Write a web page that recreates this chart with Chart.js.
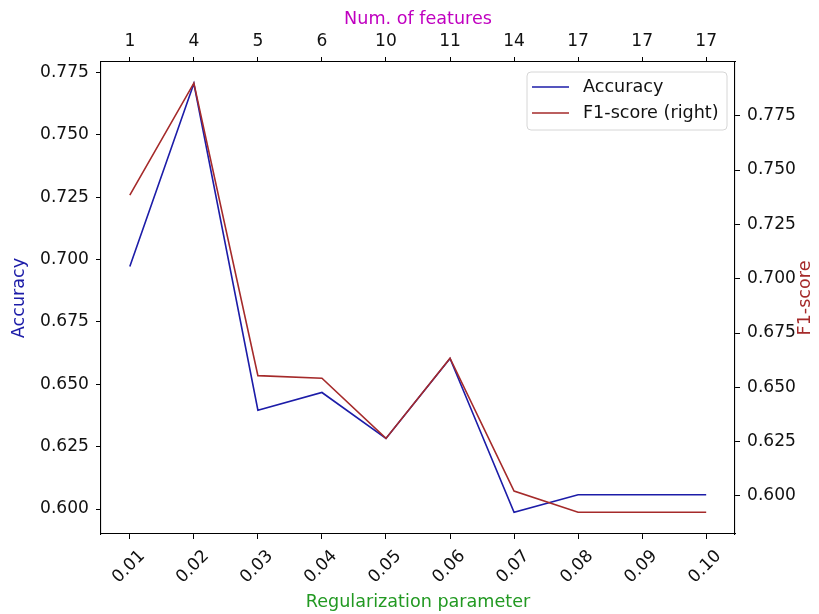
<!DOCTYPE html>
<html>
<head>
<meta charset="utf-8">
<script src="https://cdn.jsdelivr.net/npm/chart.js@4/dist/chart.umd.min.js"></script>
<style>
  html, body { margin: 0; padding: 0; background: #ffffff; }
  canvas { display: block; }
</style>
</head>
<body>
<canvas id="c" width="819" height="614"></canvas>
<script>
// Regularization strength sweep: accuracy and F1 per setting
const regParams = ['0.01', '0.02', '0.03', '0.04', '0.05', '0.06', '0.07', '0.08', '0.09', '0.10'];
const numFeatures = ['1', '4', '5', '6', '10', '11', '14', '17', '17', '17'];
const accuracy = [0.6972, 0.7705, 0.6396, 0.6467, 0.6283, 0.6603, 0.5987, 0.6057, 0.6057, 0.6057];
const f1Score = [0.7385, 0.7900, 0.6554, 0.6542, 0.6265, 0.6634, 0.6023, 0.5925, 0.5925, 0.5925];
const accTicks = [0.600, 0.625, 0.650, 0.675, 0.700, 0.725, 0.750, 0.775];
const f1Ticks = [0.600, 0.625, 0.650, 0.675, 0.700, 0.725, 0.750, 0.775];

const FONT = 'DejaVu Sans';
const FS = 17.1;      // tick labels
const FT = 17.6;      // axis titles and legend
const ACC_COLOR = '#1c1ca8';
const F1_COLOR = '#a52a2a';
const TEXT = '#111111';

const tickFont = { family: FONT, size: FS };
const titleFont = { family: FONT, size: FT };
const axisBorder = { display: true, color: '#000000', width: 1.1 };
const outerTicks = { display: true, drawOnChartArea: false, drawTicks: true, tickLength: 5, color: '#000000', tickColor: '#000000', tickWidth: 1 };

const indexTicks = (scale) => { scale.ticks = regParams.map((_, i) => ({ value: i })); };
const fixSize = (prop, v) => (scale) => { scale[prop] = v; };

// rotated bottom tick labels, centred under each tick
const bottomLabels = {
  id: 'bottomLabels',
  afterDraw(chart) {
    const ctx = chart.ctx;
    const xs = chart.scales.x;
    ctx.save();
    ctx.font = `${FS}px "${FONT}"`;
    ctx.fillStyle = TEXT;
    ctx.textAlign = 'center';
    ctx.textBaseline = 'middle';
    regParams.forEach((lab, i) => {
      const px = xs.getPixelForValue(i);
      ctx.save();
      ctx.translate(px - 1, 567);
      ctx.rotate(-Math.PI / 4);
      ctx.fillText(lab, 0, 0);
      ctx.restore();
    });
    ctx.restore();
  }
};

// right-hand axis title reading upward, plus the boxed legend
const extras = {
  id: 'extras',
  afterDraw(chart) {
    const ctx = chart.ctx;
    const area = chart.chartArea;
    ctx.save();
    ctx.font = `${FT}px "${FONT}"`;
    ctx.fillStyle = F1_COLOR;
    ctx.textAlign = 'center';
    ctx.textBaseline = 'middle';
    ctx.translate(805, (area.top + area.bottom) / 2);
    ctx.rotate(-Math.PI / 2);
    ctx.fillText('F1-score', 0, 0);
    ctx.restore();

    // legend box
    const bx = 527, by = 72, bw = 200, bh = 58, r = 4;
    ctx.save();
    ctx.beginPath();
    ctx.moveTo(bx + r, by);
    ctx.lineTo(bx + bw - r, by);
    ctx.arcTo(bx + bw, by, bx + bw, by + r, r);
    ctx.lineTo(bx + bw, by + bh - r);
    ctx.arcTo(bx + bw, by + bh, bx + bw - r, by + bh, r);
    ctx.lineTo(bx + r, by + bh);
    ctx.arcTo(bx, by + bh, bx, by + bh - r, r);
    ctx.lineTo(bx, by + r);
    ctx.arcTo(bx, by, bx + r, by, r);
    ctx.closePath();
    ctx.fillStyle = 'rgba(255,255,255,0.8)';
    ctx.fill();
    ctx.strokeStyle = '#d6d6d6';
    ctx.lineWidth = 1;
    ctx.stroke();

    const entries = chart.data.datasets.map(d => ({ label: d.label, color: d.borderColor }));
    const rows = [87, 113];
    ctx.font = `${FT}px "${FONT}"`;
    ctx.textAlign = 'left';
    ctx.textBaseline = 'middle';
    entries.forEach((e, k) => {
      const y = rows[k];
      ctx.beginPath();
      ctx.moveTo(532, y);
      ctx.lineTo(569, y);
      ctx.strokeStyle = e.color;
      ctx.lineWidth = 1.6;
      ctx.stroke();
      ctx.fillStyle = TEXT;
      ctx.fillText(e.label, 583, y);
    });
    ctx.restore();
  }
};

new Chart(document.getElementById('c'), {
  type: 'line',
  data: {
    datasets: [
      {
        label: 'Accuracy',
        data: accuracy.map((v, i) => ({ x: i, y: v })),
        borderColor: ACC_COLOR,
        backgroundColor: ACC_COLOR,
        borderWidth: 1.6,
        pointRadius: 0,
        tension: 0,
        xAxisID: 'x',
        yAxisID: 'y',
        order: 1
      },
      {
        label: 'F1-score (right)',
        data: f1Score.map((v, i) => ({ x: i, y: v })),
        borderColor: F1_COLOR,
        backgroundColor: F1_COLOR,
        borderWidth: 1.6,
        pointRadius: 0,
        tension: 0,
        xAxisID: 'x',
        yAxisID: 'y1',
        order: 0
      }
    ]
  },
  options: {
    responsive: false,
    animation: false,
    devicePixelRatio: 1,
    layout: { padding: 0 },
    plugins: { legend: { display: false }, tooltip: { enabled: false } },
    scales: {
      x: {
        type: 'linear',
        position: 'bottom',
        min: -0.45,
        max: 9.45,
        afterBuildTicks: indexTicks,
        afterFit: fixSize('height', 80),
        border: axisBorder,
        grid: outerTicks,
        ticks: { callback: () => '', font: tickFont, color: TEXT },
        title: {
          display: true,
          text: 'Regularization parameter',
          color: '#229922',
          font: titleFont,
          padding: { top: 0, bottom: 1 }
        }
      },
      x2: {
        type: 'linear',
        position: 'top',
        min: -0.45,
        max: 9.45,
        afterBuildTicks: indexTicks,
        afterFit: fixSize('height', 62),
        border: axisBorder,
        grid: outerTicks,
        ticks: {
          font: tickFont,
          color: TEXT,
          padding: 5,
          maxRotation: 0,
          autoSkip: false,
          callback: (v) => numFeatures[Math.round(v)]
        },
        title: {
          display: true,
          text: 'Num. of features',
          color: '#c000c0',
          font: titleFont,
          padding: { top: 9, bottom: 0 }
        }
      },
      y: {
        type: 'linear',
        position: 'left',
        min: 0.58998,
        max: 0.77916,
        afterBuildTicks: (s) => { s.ticks = accTicks.map(v => ({ value: v })); },
        afterFit: fixSize('width', 101),
        border: axisBorder,
        grid: outerTicks,
        ticks: { font: tickFont, color: TEXT, padding: 7, callback: (v) => v.toFixed(3) },
        title: {
          display: true,
          text: 'Accuracy',
          color: ACC_COLOR,
          font: titleFont,
          padding: { top: 9, bottom: 0 }
        }
      },
      y1: {
        type: 'linear',
        position: 'right',
        min: 0.58251,
        max: 0.79973,
        afterBuildTicks: (s) => { s.ticks = f1Ticks.map(v => ({ value: v })); },
        afterFit: fixSize('width', 84),
        border: axisBorder,
        grid: outerTicks,
        ticks: { font: tickFont, color: TEXT, padding: 7, callback: (v) => v.toFixed(3) },
        title: { display: false }
      }
    }
  },
  plugins: [bottomLabels, extras]
});
</script>
</body>
</html>
